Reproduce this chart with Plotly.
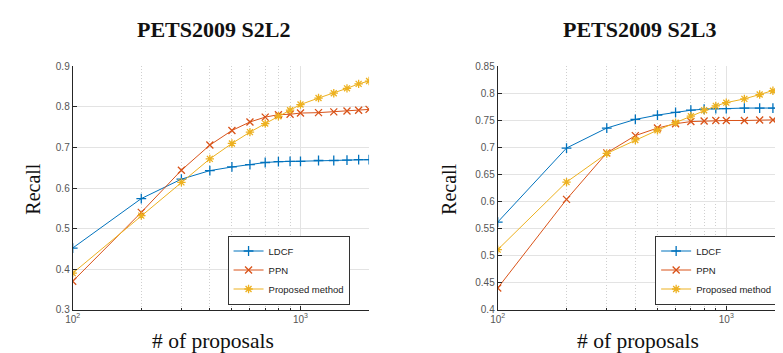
import plotly.graph_objects as go

# ---------------- data ----------------
proposals = [100, 200, 300, 400, 500, 600, 700, 800, 900, 1000, 1200, 1400, 1600, 1800, 2000]

s2l2_ldcf = [0.452, 0.574, 0.622, 0.643, 0.652, 0.658, 0.663, 0.665, 0.666, 0.666, 0.668, 0.668, 0.669, 0.670, 0.670]
s2l2_ppn = [0.370, 0.540, 0.644, 0.706, 0.742, 0.763, 0.775, 0.781, 0.782, 0.785, 0.786, 0.788, 0.790, 0.792, 0.794]
s2l2_prop = [0.390, 0.532, 0.614, 0.672, 0.710, 0.738, 0.759, 0.777, 0.792, 0.806, 0.822, 0.834, 0.846, 0.857, 0.864]

s2l3_ldcf = [0.562, 0.699, 0.736, 0.752, 0.760, 0.765, 0.769, 0.771, 0.772, 0.772, 0.773, 0.773, 0.773, 0.773, 0.773]
s2l3_ppn = [0.440, 0.604, 0.690, 0.722, 0.736, 0.744, 0.748, 0.749, 0.750, 0.750, 0.750, 0.751, 0.751, 0.752, 0.752]
s2l3_prop = [0.511, 0.636, 0.689, 0.714, 0.732, 0.746, 0.758, 0.769, 0.777, 0.783, 0.790, 0.798, 0.805, 0.812, 0.818]

series_names = ["LDCF", "PPN", "Proposed method"]
titles = ["PETS2009 S2L2", "PETS2009 S2L3"]

x_major = [100, 1000]
x_major_text = ["10<sup>2</sup>", "10<sup>3</sup>"]
x_minor = [200, 300, 400, 500, 600, 700, 800, 900, 2000]

y1_ticks = [0.3, 0.4, 0.5, 0.6, 0.7, 0.8, 0.9]
y1_text = ["0.3", "0.4", "0.5", "0.6", "0.7", "0.8", "0.9"]
y2_ticks = [0.4, 0.45, 0.5, 0.55, 0.6, 0.65, 0.7, 0.75, 0.8, 0.85]
y2_text = ["0.4", "0.45", "0.5", "0.55", "0.6", "0.65", "0.7", "0.75", "0.8", "0.85"]

# ---------------- style ----------------
colors = ["#0072BD", "#D95319", "#EDB120"]
symbols = ["cross-thin-open", "x-thin-open", "asterisk-open"]
W, H = 783, 353

def px_x(p):
    return p / W

def px_y(p):
    return 1 - p / H

fig = go.Figure()

panels = [
    ([s2l2_ldcf, s2l2_ppn, s2l2_prop], "x", "y", "legend"),
    ([s2l3_ldcf, s2l3_ppn, s2l3_prop], "x2", "y2", "legend2"),
]
for vals, xa, ya, lg in panels:
    for name, v, c, s in zip(series_names, vals, colors, symbols):
        fig.add_trace(go.Scatter(
            x=proposals, y=v, name=name, mode="lines+markers",
            line=dict(color=c, width=1),
            marker=dict(symbol=s, size=7, color=c, line=dict(color=c, width=1.3)),
            xaxis=xa, yaxis=ya, legend=lg, cliponaxis=True,
        ))

grid_c = "#e3e3e3"
axis_c = "#262626"
tick_font = dict(family="Liberation Sans, Arial, sans-serif", size=10, color="#555555")

def xaxis_cfg(domain, rng):
    return dict(
        type="log", domain=domain, range=rng,
        tickmode="array", tickvals=x_major, ticktext=x_major_text,
        ticks="inside", ticklen=4, tickcolor=axis_c,
        showgrid=True, gridcolor=grid_c, gridwidth=1,
        showline=True, linecolor=axis_c, linewidth=1,
        zeroline=False, tickfont=tick_font,
        minor=dict(tickmode="array", tickvals=x_minor, ticks="inside", ticklen=2,
                   tickcolor=axis_c, showgrid=True, gridcolor="#cfcfcf",
                   griddash="1px,2px", gridwidth=1),
    )

def yaxis_cfg(domain, rng, tv, tt):
    return dict(
        domain=domain, range=rng, tickmode="array", tickvals=tv, ticktext=tt,
        ticks="inside", ticklen=4, tickcolor=axis_c,
        showgrid=True, gridcolor=grid_c, gridwidth=1,
        showline=True, linecolor=axis_c, linewidth=1,
        zeroline=False, tickfont=tick_font,
    )

ydom = [px_y(305.3), px_y(55)]
x1dom = [px_x(57.3), px_x(356.7)]
x2dom = [px_x(486.7), 1.0]
x2_end = 2 + (W - 486.7) / 230.9

xa1 = xaxis_cfg(x1dom, [2, 3.30103]); xa1["anchor"] = "y"
xa2 = xaxis_cfg(x2dom, [2, x2_end]); xa2["anchor"] = "y2"
ya1 = yaxis_cfg(ydom, [0.3, 0.9], y1_ticks, y1_text); ya1["anchor"] = "x"
ya2 = yaxis_cfg(ydom, [0.4, 0.85], y2_ticks, y2_text); ya2["anchor"] = "x2"

legend_common = dict(
    bgcolor="white", bordercolor="#333333", borderwidth=1,
    font=dict(family="Liberation Sans, Arial, sans-serif", size=9.5, color="#222222"),
    itemwidth=30, tracegroupgap=0, xanchor="right", yanchor="bottom",
)

serif = "Liberation Serif, Times New Roman, serif"
annotations = []
for t, cx in zip(titles, [200, 630]):
    annotations.append(dict(text="<b>%s</b>" % t, x=px_x(cx), y=px_y(17), xref="paper", yref="paper",
                            showarrow=False, font=dict(family=serif, size=22, color="#111111"),
                            xanchor="center", yanchor="middle"))
for cx in [199.5, 628]:
    annotations.append(dict(text="# of proposals", x=px_x(cx), y=px_y(338), xref="paper", yref="paper",
                            showarrow=False, font=dict(family=serif, size=21.5, color="#111111"),
                            xanchor="center", yanchor="middle"))
for cx in [17, 437.5]:
    annotations.append(dict(text="Recall", x=px_x(cx), y=px_y(181), xref="paper", yref="paper",
                            showarrow=False, textangle=-90, font=dict(family=serif, size=20, color="#111111"),
                            xanchor="center", yanchor="middle"))

fig.update_layout(
    width=W, height=H, margin=dict(l=0, r=0, t=0, b=0),
    paper_bgcolor="white", plot_bgcolor="white",
    xaxis=xa1, xaxis2=xa2, yaxis=ya1, yaxis2=ya2,
    legend=dict(x=px_x(337), y=px_y(300), **legend_common),
    legend2=dict(x=px_x(769), y=px_y(300), **legend_common),
    annotations=annotations, showlegend=True,
)

fig.write_html("out.html")
